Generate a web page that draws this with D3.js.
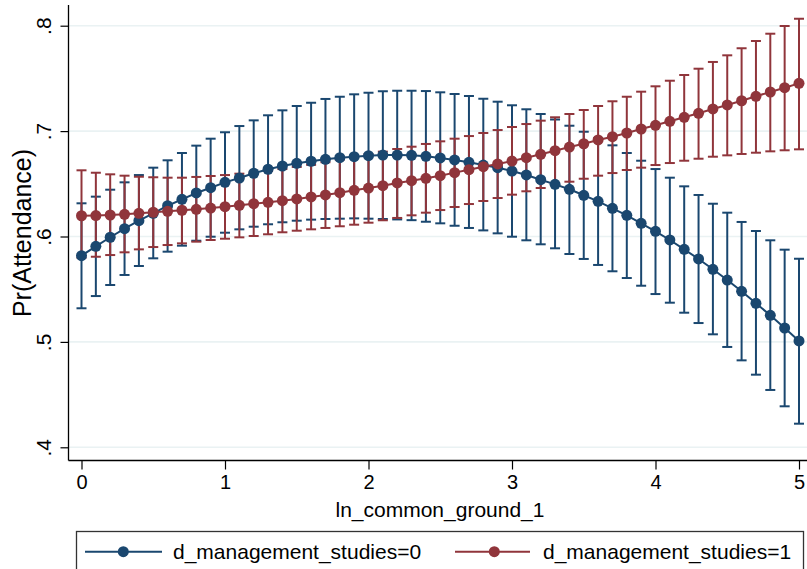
<!DOCTYPE html>
<html>
<head>
<meta charset="utf-8">
<script src="https://cdn.jsdelivr.net/npm/d3@7"></script>
<style>
  html, body { margin: 0; padding: 0; background: #fff; }
  svg { display: block; }
  text { font-family: "Liberation Sans", Arial, Helvetica, sans-serif; fill: #000; }
</style>
</head>
<body>
<svg id="chart" width="807" height="569"></svg>
<script>
// ---- data ----
const xValues = [0,0.1,0.2,0.3,0.4,0.5,0.6,0.7,0.8,0.9,1,1.1,1.2,1.3,1.4,1.5,1.6,1.7,1.8,1.9,2,2.1,2.2,2.3,2.4,2.5,2.6,2.7,2.8,2.9,3,3.1,3.2,3.3,3.4,3.5,3.6,3.7,3.8,3.9,4,4.1,4.2,4.3,4.4,4.5,4.6,4.7,4.8,4.9,5];

const seriesNames = ["d_management_studies=0", "d_management_studies=1"];

const mean0 = [0.5818,0.5907,0.5993,0.6074,0.6150,0.6220,0.6292,0.6353,0.6413,0.6463,0.6514,0.6555,0.6600,0.6638,0.6669,0.6694,0.6714,0.6732,0.6748,0.6757,0.6767,0.6773,0.6773,0.6770,0.6761,0.6745,0.6726,0.6704,0.6678,0.6653,0.6621,0.6584,0.6539,0.6495,0.6448,0.6391,0.6334,0.6267,0.6201,0.6125,0.6049,0.5967,0.5878,0.5787,0.5689,0.5587,0.5480,0.5366,0.5252,0.5132,0.5009];
const upper0 = [0.6315,0.6378,0.6444,0.6514,0.6583,0.6653,0.6723,0.6792,0.6862,0.6928,0.6989,0.7048,0.7102,0.7150,0.7197,0.7238,0.7269,0.7305,0.7326,0.7349,0.7364,0.7378,0.7383,0.7383,0.7380,0.7368,0.7352,0.7333,0.7307,0.7279,0.7245,0.7207,0.7162,0.7110,0.7051,0.6994,0.6932,0.6865,0.6792,0.6719,0.6640,0.6558,0.6476,0.6394,0.6311,0.6226,0.6138,0.6052,0.5964,0.5875,0.5789];
const lower0 = [0.5319,0.5435,0.5540,0.5635,0.5720,0.5793,0.5856,0.5913,0.5960,0.5998,0.6036,0.6068,0.6093,0.6116,0.6135,0.6150,0.6160,0.6166,0.6169,0.6172,0.6169,0.6166,0.6162,0.6155,0.6140,0.6125,0.6102,0.6081,0.6058,0.6030,0.5998,0.5964,0.5926,0.5888,0.5834,0.5787,0.5730,0.5670,0.5606,0.5533,0.5454,0.5372,0.5277,0.5179,0.5072,0.4952,0.4825,0.4689,0.4544,0.4389,0.4224];

const mean1 = [0.6197,0.6199,0.6204,0.6210,0.6220,0.6230,0.6239,0.6249,0.6258,0.6270,0.6283,0.6296,0.6311,0.6324,0.6340,0.6356,0.6375,0.6394,0.6416,0.6438,0.6460,0.6482,0.6508,0.6530,0.6552,0.6577,0.6606,0.6634,0.6662,0.6688,0.6716,0.6748,0.6780,0.6814,0.6849,0.6880,0.6916,0.6947,0.6982,0.7020,0.7055,0.7093,0.7131,0.7169,0.7210,0.7248,0.7288,0.7330,0.7371,0.7412,0.7453];
const upper1 = [0.6628,0.6605,0.6590,0.6577,0.6567,0.6562,0.6558,0.6558,0.6565,0.6574,0.6583,0.6596,0.6608,0.6622,0.6640,0.6660,0.6680,0.6705,0.6730,0.6755,0.6780,0.6805,0.6830,0.6852,0.6878,0.6903,0.6928,0.6953,0.6982,0.7010,0.7039,0.7067,0.7099,0.7131,0.7162,0.7200,0.7238,0.7283,0.7326,0.7374,0.7425,0.7478,0.7532,0.7592,0.7656,0.7719,0.7786,0.7855,0.7924,0.7997,0.8066];
const lower1 = [0.5799,0.5808,0.5824,0.5850,0.5878,0.5900,0.5919,0.5935,0.5951,0.5967,0.5979,0.5992,0.6005,0.6021,0.6040,0.6055,0.6068,0.6081,0.6097,0.6112,0.6131,0.6154,0.6176,0.6201,0.6226,0.6251,0.6280,0.6308,0.6337,0.6365,0.6397,0.6429,0.6460,0.6495,0.6520,0.6548,0.6577,0.6602,0.6631,0.6653,0.6678,0.6697,0.6719,0.6738,0.6757,0.6770,0.6783,0.6795,0.6808,0.6818,0.6827];

const xTicks = [0,1,2,3,4,5];
const xTickLabels = ["0","1","2","3","4","5"];
const yTicks = [0.4,0.5,0.6,0.7,0.8];
const yTickLabels = [".4",".5",".6",".7",".8"];
const xTitle = "ln_common_ground_1";
const yTitle = "Pr(Attendance)";

// ---- layout ----
const colors = ["#1a476f", "#90353b"];
const svg = d3.select("#chart");
const axisX = 68.5, axisY = 460.5, plotTop = 5, plotRight = 807;

const x = d3.scaleLinear().domain([0, 5]).range([81.5, 799]);
const y = d3.scaleLinear().domain([0.4, 0.8]).range([447.3, 25.7]);

// gridlines
svg.append("g").selectAll("line").data(yTicks).join("line")
  .attr("x1", axisX).attr("x2", plotRight)
  .attr("y1", d => y(d)).attr("y2", d => y(d))
  .attr("stroke", "#eaf2f3").attr("stroke-width", 1.6);

// y axis
const yAxis = d3.axisLeft(y).tickValues(yTicks).tickSize(8).tickPadding(0)
  .tickFormat((d, i) => yTickLabels[i]);
const gy = svg.append("g").attr("transform", `translate(${axisX},0)`).call(yAxis);
gy.select(".domain").remove();
gy.selectAll(".tick line").attr("stroke", "#000").attr("stroke-width", 1.2);
gy.selectAll(".tick text")
  .attr("x", 0).attr("y", 0).attr("dy", null)
  .attr("transform", "translate(-18,0) rotate(-90)")
  .attr("text-anchor", "middle")
  .style("font-size", "21px").style("font-family", "'Liberation Sans', Arial, sans-serif");
svg.append("line").attr("x1", axisX).attr("x2", axisX).attr("y1", plotTop).attr("y2", axisY)
  .attr("stroke", "#000").attr("stroke-width", 1.3);

// x axis
const xAxis = d3.axisBottom(x).tickValues(xTicks).tickSize(9).tickPadding(5)
  .tickFormat((d, i) => xTickLabels[i]);
const gx = svg.append("g").attr("transform", `translate(0,${axisY})`).call(xAxis);
gx.select(".domain").remove();
gx.selectAll(".tick line").attr("stroke", "#000").attr("stroke-width", 1.2);
gx.selectAll(".tick text").attr("dy", null).attr("y", 28)
  .style("font-size", "20px").style("font-family", "'Liberation Sans', Arial, sans-serif");
svg.append("line").attr("x1", axisX).attr("x2", plotRight).attr("y1", axisY).attr("y2", axisY)
  .attr("stroke", "#000").attr("stroke-width", 1.3);

// axis titles
svg.append("text").attr("x", 440).attr("y", 517).attr("text-anchor", "middle")
  .style("font-size", "21px").text(xTitle);
svg.append("text").attr("transform", "translate(31,233) rotate(-90)").attr("text-anchor", "middle")
  .style("font-size", "25px").text(yTitle);

// series
const series = [
  { name: seriesNames[0], mean: mean0, lo: lower0, hi: upper0, color: colors[0] },
  { name: seriesNames[1], mean: mean1, lo: lower1, hi: upper1, color: colors[1] }
];
const capW = 5;

series.forEach(s => {
  const g = svg.append("g");
  const pts = xValues.map((xv, i) => ({ x: xv, lo: s.lo[i], hi: s.hi[i] }));
  g.selectAll("line.bar").data(pts).join("line").attr("class", "bar")
    .attr("x1", d => x(d.x)).attr("x2", d => x(d.x))
    .attr("y1", d => y(d.lo)).attr("y2", d => y(d.hi))
    .attr("stroke", s.color).attr("stroke-width", 2);
  g.selectAll("line.caphi").data(pts).join("line").attr("class", "caphi")
    .attr("x1", d => x(d.x) - capW).attr("x2", d => x(d.x) + capW)
    .attr("y1", d => y(d.hi)).attr("y2", d => y(d.hi))
    .attr("stroke", s.color).attr("stroke-width", 2);
  g.selectAll("line.caplo").data(pts).join("line").attr("class", "caplo")
    .attr("x1", d => x(d.x) - capW).attr("x2", d => x(d.x) + capW)
    .attr("y1", d => y(d.lo)).attr("y2", d => y(d.lo))
    .attr("stroke", s.color).attr("stroke-width", 2);
});

series.forEach(s => {
  const g = svg.append("g");
  const pts = xValues.map((xv, i) => ({ x: xv, m: s.mean[i] }));
  g.append("path").datum(pts)
    .attr("d", d3.line().x(d => x(d.x)).y(d => y(d.m)))
    .attr("fill", "none").attr("stroke", s.color).attr("stroke-width", 2);
  g.selectAll("circle").data(pts).join("circle")
    .attr("cx", d => x(d.x)).attr("cy", d => y(d.m)).attr("r", 5.5)
    .attr("fill", s.color);
});

// legend
const lg = svg.append("g");
lg.append("rect").attr("x", 76.5).attr("y", 531.5).attr("width", 727).attr("height", 60)
  .attr("fill", "#fff").attr("stroke", "#333").attr("stroke-width", 1.3);
const legendItems = [
  { lx1: 85, lx2: 162, mx: 123.3, tx: 173, color: colors[0], label: seriesNames[0] },
  { lx1: 455, lx2: 530, mx: 494.3, tx: 543, color: colors[1], label: seriesNames[1] }
];
legendItems.forEach(it => {
  lg.append("line").attr("x1", it.lx1).attr("x2", it.lx2).attr("y1", 551.7).attr("y2", 551.7)
    .attr("stroke", it.color).attr("stroke-width", 2);
  lg.append("circle").attr("cx", it.mx).attr("cy", 551.7).attr("r", 5.5).attr("fill", it.color);
  lg.append("text").attr("x", it.tx).attr("y", 558.5).style("font-size", "21px").text(it.label);
});
</script>
</body>
</html>
